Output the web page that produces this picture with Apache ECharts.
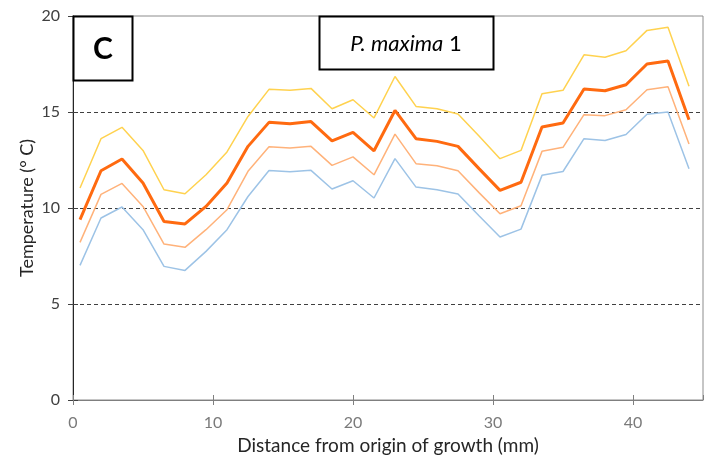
<!DOCTYPE html>
<html><head><meta charset="utf-8">
<script src="https://cdn.jsdelivr.net/npm/echarts@6/dist/echarts.min.js"></script>
<style>html,body{margin:0;padding:0;background:#fff}#c{width:713px;height:466px}</style>
</head><body><div id="c"></div>
<script>
const distance = [0.5,2,3.5,5,6.5,8,9.5,11,12.5,14,15.5,17,18.5,20,21.5,23,24.5,26,27.5,29,30.5,32,33.5,35,36.5,38,39.5,41,42.5,44];
const upper = [11.04,13.61,14.2,13.0,10.95,10.74,11.73,12.92,14.77,16.18,16.13,16.23,15.17,15.64,14.69,16.85,15.29,15.17,14.9,13.75,12.57,13.0,15.95,16.13,17.98,17.85,18.19,19.25,19.42,16.34];
const mean = [9.39,11.94,12.55,11.3,9.3,9.17,10.08,11.3,13.21,14.46,14.39,14.5,13.5,13.94,12.98,15.08,13.61,13.47,13.21,12.05,10.92,11.34,14.22,14.43,16.2,16.11,16.42,17.5,17.66,14.6];
const lowerA = [8.21,10.71,11.28,10.08,8.12,7.95,8.87,9.91,11.91,13.19,13.12,13.21,12.22,12.66,11.73,13.85,12.31,12.2,11.94,10.8,9.7,10.12,12.95,13.16,14.86,14.81,15.12,16.16,16.32,13.33];
const lowerB = [7.01,9.48,10.05,8.87,6.96,6.75,7.74,8.87,10.6,11.95,11.89,11.96,10.99,11.42,10.52,12.57,11.09,10.95,10.73,9.6,8.49,8.9,11.7,11.9,13.61,13.52,13.83,14.88,15.0,12.05];
const xTitle = 'Distance from origin of growth (mm)';
const yTitle = 'Temperature (° C)';
const panelLabel = 'C';
const titleItalic = 'P. maxima';
const titleRest = ' 1';

const pair = ys => distance.map((x,i)=>[x, ys[i]]);
const FONT = 'Lato, "Open Sans", sans-serif';
const chart = echarts.init(document.getElementById('c'));
const lineS = (data, color, w, z) => ({type:'line', data: pair(data), symbol:'none', smooth:false,
  lineStyle:{color, width:w}, z, animation:false});
chart.setOption({
  animation:false,
  grid:{left:73, right:10, top:16, bottom:66, show:true, borderColor:'#8c8c8c', borderWidth:1},
  xAxis:[{type:'value', min:0, max:45, interval:10,
    axisLine:{show:true, lineStyle:{color:'#7f7f7f', width:1}},
    axisTick:{show:true, length:5, lineStyle:{color:'#7f7f7f'}},
    axisLabel:{color:'#7a7a7a', fontSize:16, fontFamily:FONT, margin:15, showMaxLabel:false},
    splitLine:{show:false},
    name:xTitle, nameLocation:'middle', nameGap:35,
    nameTextStyle:{color:'#262626', fontSize:19, fontFamily:FONT}},
   {type:'value', min:0, max:45, interval:10, position:'bottom',
    axisLine:{show:false}, axisTick:{show:true, inside:true, length:5, lineStyle:{color:'#7f7f7f'}},
    axisLabel:{show:false}, splitLine:{show:false}}],
  yAxis:[{type:'value', min:0, max:20, interval:5,
    axisLine:{show:true, lineStyle:{color:'#262626', width:1}},
    axisTick:{show:true, length:5, lineStyle:{color:'#404040'}},
    axisLabel:{color:'#404040', fontSize:16, fontFamily:FONT, margin:13},
    splitLine:{show:true, showMaxLine:false, showMinLine:false, lineStyle:{color:'#404040', type:[4,3], width:1}},
    name:yTitle, nameLocation:'middle', nameGap:37, nameMoveOverlap:false,
    nameTextStyle:{color:'#262626', fontSize:18, fontFamily:FONT}},
   {type:'value', min:0, max:20, interval:5, position:'left',
    axisLine:{show:false}, axisTick:{show:true, inside:true, length:5, lineStyle:{color:'#404040'}},
    axisLabel:{show:false}, splitLine:{show:false}}],
  series:[
    lineS(upper, '#FFD24F', 1.5, 2),
    lineS(lowerB, '#9DC3E6', 1.5, 2),
    lineS(lowerA, '#FFB27A', 1.5, 3),
    lineS(mean, '#FF6A10', 3, 4)
  ],
  graphic:[
    {type:'rect', shape:{x:73.5, y:16.5, width:59, height:64}, style:{fill:'#fff', stroke:'#000', lineWidth:2}, z:10},
    {type:'text', x:103, y:49, style:{text:panelLabel, font:'bold 30px '+FONT, fill:'#000', textAlign:'center', textVerticalAlign:'middle'}, z:11},
    {type:'rect', shape:{x:319.5, y:16.5, width:174, height:53}, style:{fill:'#fff', stroke:'#000', lineWidth:2}, z:10},
    {type:'text', x:406, y:44, style:{
      rich:{i:{font:'italic 22px '+FONT, fill:'#000'}, n:{font:'22px '+FONT, fill:'#000'}},
      text:'{i|'+titleItalic+'}{n|'+titleRest+'}', textAlign:'center', textVerticalAlign:'middle'}, z:11}
  ]
});
</script></body></html>
